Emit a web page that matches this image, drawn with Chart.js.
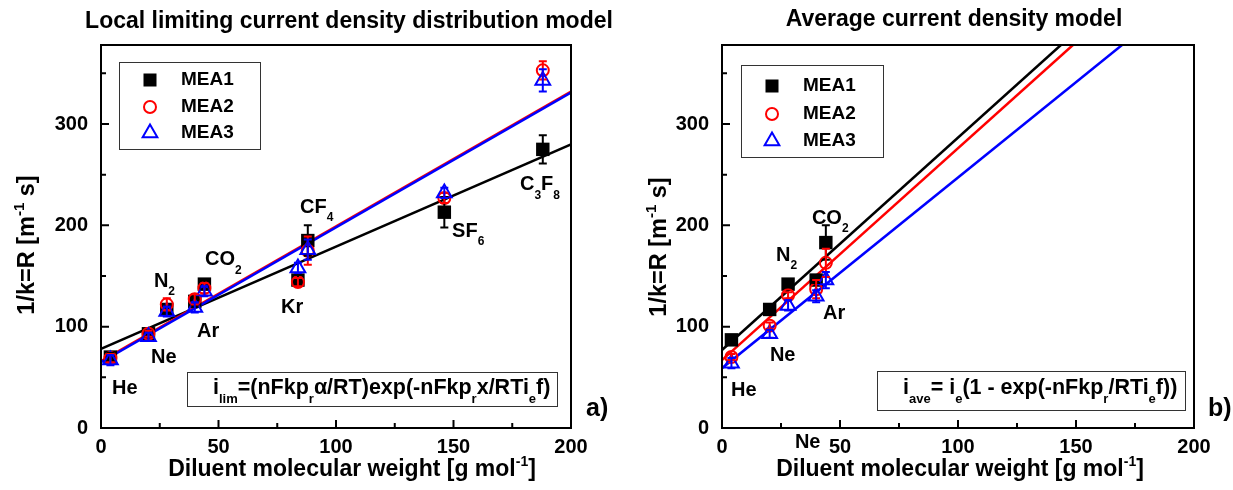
<!DOCTYPE html>
<html>
<head>
<meta charset="utf-8">
<script src="https://cdn.jsdelivr.net/npm/chart.js@4.4.0/dist/chart.umd.min.js"></script>
<style>
  html, body { margin: 0; padding: 0; background: #fff; }
  #wrap { position: relative; width: 1233px; height: 490px; overflow: hidden; }
  .panel { position: absolute; top: 0; height: 490px; }
  #panelA { left: 0; width: 616px; }
  #panelB { left: 616px; width: 617px; }
</style>
</head>
<body>
<div id="wrap">
  <div class="panel" id="panelA"><canvas id="chartA" width="616" height="490"></canvas></div>
  <div class="panel" id="panelB"><canvas id="chartB" width="617" height="490"></canvas></div>
</div>
<script>
// ----- Data -----
const seriesNames = ["MEA1", "MEA2", "MEA3"];
const molWeight = [4.0, 20.2, 28.0, 39.9, 44.0, 83.8, 88.0, 146.1, 188.0]; // He Ne N2 Ar CO2 Kr CF4 SF6 C3F8

// a) local limiting current density distribution model
const aMEA1 = [70, 93, 117, 125, 142, 146, 185, 213, 275];
const aMEA1Err = [4, 3, 4, 4, 5, 5, 15, 15, 14];
const aMEA2 = [69, 93, 122, 127, 138, 144, 175, 227, 353];
const aMEA2Err = [4, 3, 6, 5, 5, 4, 14, 5, 9];
const aMEA3 = [67, 90, 115, 119, 135, 158, 176, 232, 343];
const aMEA3Err = [5, 4, 5, 5, 5, 5, 10, 5, 11];
// fitted lines, [x, y] end points
const aFit1 = [[0, 78], [200, 280]];
const aFit2 = [[0, 66], [200, 332]];
const aFit3 = [[0, 65], [200, 331]];

// b) average current density model (He Ne N2 Ar CO2)
const bWeight = [4.0, 20.2, 28.0, 39.9, 44.0];
const bMEA1 = [87, 117, 142, 146, 183];
const bMEA1Err = [3, 3, 3, 3, 17];
const bMEA2 = [70, 101, 131, 137, 163];
const bMEA2Err = [3, 3, 3, 9, 14];
const bMEA3 = [64, 93, 121, 130, 146];
const bMEA3Err = [5, 4, 5, 6, 8];
const bFit1 = [[0, 77], [143.6, 378]];
const bFit2 = [[0, 67], [148.7, 378]];
const bFit3 = [[0, 59], [169.5, 378]];

// axes
const xRange = [0, 200];
const yRange = [0, 378];
const xTicks = [0, 50, 100, 150, 200];
const xMinor = [25, 75, 125, 175];
const yTicks = [0, 100, 200, 300];
const yMinor = [50, 150, 250, 350];

// gas labels (left edge x, middle y, in data units)
const aLabels = [
  { x: 4.7, y: 39, t: [["He", ""]] },
  { x: 21.3, y: 70, t: [["Ne", ""]] },
  { x: 22.5, y: 145, t: [["N", ""], ["2", "sub"]] },
  { x: 40.9, y: 95, t: [["Ar", ""]] },
  { x: 44.3, y: 166, t: [["CO", ""], ["2", "sub"]] },
  { x: 76.6, y: 119, t: [["Kr", ""]] },
  { x: 84.7, y: 218, t: [["CF", ""], ["4", "sub"]] },
  { x: 149.4, y: 194, t: [["SF", ""], ["6", "sub"]] },
  { x: 178.3, y: 240, t: [["C", ""], ["3", "sub"], ["F", ""], ["8", "sub"]] }
];
const bLabels = [
  { x: 3.8, y: 37, t: [["He", ""]] },
  { x: 20.3, y: 72, t: [["Ne", ""]] },
  { x: 22.9, y: 170, t: [["N", ""], ["2", "sub"]] },
  { x: 42.8, y: 113, t: [["Ar", ""]] },
  { x: 38.1, y: 207, t: [["CO", ""], ["2", "sub"]] },
  { x: 30.9, y: -14, t: [["Ne", ""]] }
];

const xTitle = [["Diluent molecular weight [g mol", ""], ["-1", "sup"], ["]", ""]];
const yTitle = [["1/k=R [m", ""], ["-1", "sup"], [" s]", ""]];
const aFormula = [["i", ""], ["lim", "sub"], ["=(nFkp", ""], ["r", "sub"], ["\u03b1/RT)exp(-nFkp", ""], ["r", "sub"], ["x/RTi", ""], ["e", "sub"], ["f)", ""]];
const bFormula = [["i", ""], ["ave", "sub"], ["= i", ""], ["e", "sub"], ["(1 - exp(-nFkp", ""], ["r", "sub"], ["/RTi", ""], ["e", "sub"], ["f))", ""]];

// ----- Drawing helpers -----
const FONT = "'Liberation Sans', Arial, sans-serif";
const colors = ["#000000", "#ff0000", "#0000ff"];
const styles = ["rect", "circle", "triangle"];

function setFont(ctx, kind, size) {
  const s = kind ? Math.round(size * 0.62) : size;
  ctx.font = "bold " + s + "px " + FONT;
}

function richWidth(ctx, segs, size) {
  let w = 0;
  segs.forEach(([t, k]) => { setFont(ctx, k, size); w += ctx.measureText(t).width; });
  return w;
}

function drawRich(ctx, segs, x, y, size, align) {
  let cx = align === "center" ? x - richWidth(ctx, segs, size) / 2 : x;
  ctx.textAlign = "left";
  ctx.textBaseline = "middle";
  ctx.fillStyle = "#000";
  segs.forEach(([t, k]) => {
    setFont(ctx, k, size);
    const dy = k === "sub" ? size * 0.52 : (k === "sup" ? -size * 0.36 : 0);
    ctx.fillText(t, cx, y + dy);
    cx += ctx.measureText(t).width;
  });
}

function drawMarker(ctx, style, x, y, color) {
  ctx.save();
  ctx.lineWidth = 2;
  ctx.strokeStyle = color;
  ctx.fillStyle = color;
  if (style === "rect") {
    ctx.fillRect(x - 6.5, y - 6.5, 13, 13);
  } else if (style === "circle") {
    ctx.beginPath();
    ctx.arc(x, y, 6, 0, Math.PI * 2);
    ctx.stroke();
  } else {
    const r = 8.5;
    ctx.beginPath();
    ctx.moveTo(x, y - r);
    ctx.lineTo(x + r * 0.866, y + r * 0.5);
    ctx.lineTo(x - r * 0.866, y + r * 0.5);
    ctx.closePath();
    ctx.stroke();
  }
  ctx.restore();
}

// one plugin per panel, holding that panel's decorations
function decorPlugin(p) {
  return {
    id: "decor",
    afterDatasetsDraw(chart) {
      const ctx = chart.ctx;
      const xs = chart.scales.x, ys = chart.scales.y;
      const area = chart.chartArea;

      // error bars
      ctx.save();
      ctx.lineWidth = 2;
      chart.data.datasets.forEach((ds, i) => {
        if (!ds.errors) return;
        const meta = chart.getDatasetMeta(i);
        ctx.strokeStyle = ds.borderColor;
        meta.data.forEach((pt, j) => {
          const v = ds.data[j].y, e = ds.errors[j];
          const top = ys.getPixelForValue(v + e), bot = ys.getPixelForValue(v - e);
          ctx.beginPath();
          ctx.moveTo(pt.x, top); ctx.lineTo(pt.x, bot);
          ctx.moveTo(pt.x - 4, top); ctx.lineTo(pt.x + 4, top);
          ctx.moveTo(pt.x - 4, bot); ctx.lineTo(pt.x + 4, bot);
          ctx.stroke();
        });
      });
      ctx.restore();

      // frame and inward ticks
      ctx.save();
      ctx.strokeStyle = "#000";
      ctx.lineWidth = 2;
      ctx.strokeRect(area.left, area.top, area.right - area.left, area.bottom - area.top);
      ctx.beginPath();
      xTicks.forEach(v => { const px = xs.getPixelForValue(v); ctx.moveTo(px, area.bottom); ctx.lineTo(px, area.bottom - 8); });
      xMinor.forEach(v => { const px = xs.getPixelForValue(v); ctx.moveTo(px, area.bottom); ctx.lineTo(px, area.bottom - 5); });
      yTicks.forEach(v => { const py = ys.getPixelForValue(v); ctx.moveTo(area.left, py); ctx.lineTo(area.left + 8, py); });
      yMinor.forEach(v => { const py = ys.getPixelForValue(v); ctx.moveTo(area.left, py); ctx.lineTo(area.left + 5, py); });
      ctx.stroke();
      ctx.restore();

      // gas labels
      p.labels.forEach(l => {
        drawRich(ctx, l.t, xs.getPixelForValue(l.x), ys.getPixelForValue(l.y), 20, "left");
      });

      // legend box
      const lg = p.legend;
      ctx.save();
      ctx.strokeStyle = "#333";
      ctx.lineWidth = 1;
      ctx.strokeRect(lg.x + 0.5, lg.y + 0.5, lg.w, lg.h);
      ctx.restore();
      seriesNames.forEach((name, i) => {
        const ry = lg.y + lg.rows[i];
        drawMarker(ctx, styles[i], lg.x + 31, ry, colors[i]);
        drawRich(ctx, [[name, ""]], lg.x + 62, ry, 19, "left");
      });

      // formula box
      const fb = p.formulaBox;
      ctx.save();
      ctx.strokeStyle = "#333";
      ctx.lineWidth = 1;
      ctx.strokeRect(fb.x + 0.5, fb.y + 0.5, fb.w, fb.h);
      ctx.restore();
      drawRich(ctx, p.formula, fb.tx, fb.ty, 21.5, "left");
    },
    afterDraw(chart) {
      const ctx = chart.ctx;
      drawRich(ctx, [[p.title, ""]], p.titlePos[0], p.titlePos[1], 23, "center");
      drawRich(ctx, xTitle, p.xTitlePos[0], p.xTitlePos[1], 23, "center");
      ctx.save();
      ctx.translate(p.yTitlePos[0], p.yTitlePos[1]);
      ctx.rotate(-Math.PI / 2);
      drawRich(ctx, yTitle, 0, 0, 23.5, "center");
      ctx.restore();
      drawRich(ctx, [[p.tag, ""]], p.tagPos[0], p.tagPos[1], 25, "left");
    }
  };
}

function pts(xs, ys) {
  return xs.map((x, i) => ({ x: x, y: ys[i] }));
}

function fitPts(f) {
  return f.map(([x, y]) => ({ x: x, y: y }));
}

function makePanel(p) {
  const datasets = [];
  p.series.forEach((s, i) => {
    datasets.push({
      label: seriesNames[i],
      data: pts(p.x, s.y),
      errors: s.err,
      pointStyle: styles[i],
      pointRadius: i === 0 ? 9.5 : (i === 1 ? 6 : 8.5),
      pointBorderWidth: i === 0 ? 0 : 2,
      backgroundColor: i === 0 ? colors[i] : "rgba(0,0,0,0)",
      borderColor: colors[i],
      showLine: false,
      order: 3 - i
    });
  });
  p.fits.forEach((f, i) => {
    datasets.push({
      label: "fit " + seriesNames[i],
      data: fitPts(f),
      showLine: true,
      pointRadius: 0,
      borderColor: colors[i],
      borderWidth: 2.5,
      order: 6 - i
    });
  });

  const ctx = document.getElementById(p.canvas).getContext("2d");
  return new Chart(ctx, {
    type: "scatter",
    data: { datasets: datasets },
    options: {
      responsive: false,
      animation: false,
      events: [],
      layout: { padding: { top: 45, right: p.padRight, left: 0, bottom: 0 } },
      plugins: { legend: { display: false }, tooltip: { enabled: false }, title: { display: false } },
      scales: {
        x: {
          type: "linear",
          min: xRange[0], max: xRange[1],
          grid: { display: false, drawTicks: false },
          border: { display: false },
          afterBuildTicks: s => { s.ticks = xTicks.map(v => ({ value: v })); },
          afterFit: s => { s.height = 62; },
          ticks: { color: "#000", padding: 7, maxRotation: 0, font: { family: FONT, size: 20, weight: "bold" } }
        },
        y: {
          type: "linear",
          min: yRange[0], max: yRange[1],
          grid: { display: false, drawTicks: false },
          border: { display: false },
          afterBuildTicks: s => { s.ticks = yTicks.map(v => ({ value: v })); },
          afterFit: s => { s.width = p.yAxisWidth; },
          ticks: { color: "#000", padding: 13, font: { family: FONT, size: 20, weight: "bold" } }
        }
      }
    },
    plugins: [decorPlugin(p)]
  });
}

window.onload = function() {
  makePanel({
    canvas: "chartA",
    yAxisWidth: 101, padRight: 45,
    x: molWeight,
    series: [{ y: aMEA1, err: aMEA1Err }, { y: aMEA2, err: aMEA2Err }, { y: aMEA3, err: aMEA3Err }],
    fits: [aFit1, aFit2, aFit3],
    labels: aLabels,
    title: "Local limiting current density distribution model",
    titlePos: [349, 22],
    xTitlePos: [352, 470],
    yTitlePos: [28, 245],
    tag: "a)", tagPos: [586, 409],
    legend: { x: 119, y: 62, w: 141, h: 87, rows: [18, 45, 71] },
    formula: aFormula,
    formulaBox: { x: 187, y: 372, w: 370, h: 34, tx: 213, ty: 388 }
  });
  makePanel({
    canvas: "chartB",
    yAxisWidth: 106, padRight: 39,
    x: bWeight,
    series: [{ y: bMEA1, err: bMEA1Err }, { y: bMEA2, err: bMEA2Err }, { y: bMEA3, err: bMEA3Err }],
    fits: [bFit1, bFit2, bFit3],
    labels: bLabels,
    title: "Average current density model",
    titlePos: [338, 20],
    xTitlePos: [344, 470],
    yTitlePos: [44, 247],
    tag: "b)", tagPos: [592, 409],
    legend: { x: 125, y: 65, w: 142, h: 92, rows: [21, 49, 76] },
    formula: bFormula,
    formulaBox: { x: 261, y: 371, w: 308, h: 39, tx: 287, ty: 388 }
  });
};
</script>
</body>
</html>
